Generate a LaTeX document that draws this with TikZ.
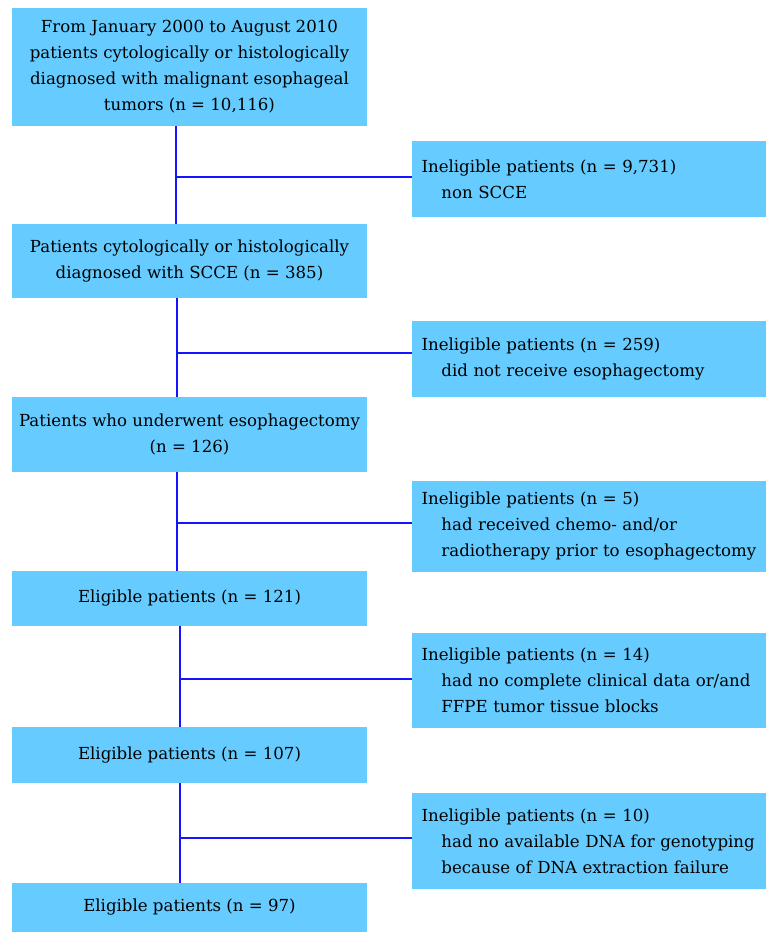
\documentclass[tikz,border=0pt]{standalone}
\usepackage{fontspec}
\setmainfont{DejaVu Serif}
\definecolor{boxblue}{RGB}{102,204,255}
\definecolor{lineblue}{RGB}{20,20,255}
\begin{document}
\begin{tikzpicture}[x=1pt,y=-1pt,
	every node/.style={fill=boxblue,inner sep=0,font=\fontsize{16.6}{26}\selectfont},
	mainbox/.style={minimum width=355pt,minimum height=#1,align=center},
	sidebox/.style={minimum width=354pt,minimum height=#1,text width=335pt,align=left},
	link/.style={lineblue,line width=2.5pt}]
\useasboundingbox (0,0) rectangle (768,933);
\node[mainbox=118pt] (b1) at (189.5,67) {From January 2000 to August 2010\\patients cytologically or histologically\\diagnosed with malignant esophageal\\tumors (n = 10,116)};
\node[mainbox=74pt] (b2) at (189.5,261) {Patients cytologically or histologically\\diagnosed with SCCE (n = 385)};
\node[mainbox=75pt] (b3) at (189.5,434.5) {Patients who underwent esophagectomy\\(n = 126)};
\node[mainbox=55pt] (b4) at (189.5,598.5) {Eligible patients (n = 121)};
\node[mainbox=56pt] (b5) at (189.5,755) {Eligible patients (n = 107)};
\node[mainbox=49pt] (b6) at (189.5,907.5) {Eligible patients (n = 97)};
\node[sidebox=76pt] (r1) at (589,179) {Ineligible patients (n = 9,731)\\\hspace*{1.2em}non SCCE};
\node[sidebox=76pt] (r2) at (589,359) {Ineligible patients (n = 259)\\\hspace*{1.2em}did not receive esophagectomy};
\node[sidebox=91pt] (r3) at (589,526.5) {Ineligible patients (n = 5)\\\hspace*{1.2em}had received chemo- and/or\\\hspace*{1.2em}radiotherapy prior to esophagectomy};
\node[sidebox=95pt] (r4) at (589,680.5) {Ineligible patients (n = 14)\\\hspace*{1.2em}had no complete clinical data or/and\\\hspace*{1.2em}FFPE tumor tissue blocks};
\node[sidebox=96pt] (r5) at (589,841) {Ineligible patients (n = 10)\\\hspace*{1.2em}had no available DNA for genotyping\\\hspace*{1.2em}because of DNA extraction failure};
\coordinate (j1) at (176,177);
\coordinate (j2) at (177,353);
\coordinate (j3) at (177,523);
\coordinate (j4) at (180,679);
\coordinate (j5) at (180,838);
\foreach \i/\k in {1/2,2/3,3/4,4/5,5/6}{
	\draw[link] (b\i.south-|j\i) -- (b\k.north-|j\i);
	\draw[link] (j\i) -- (j\i-|r\i.west);
}
\end{tikzpicture}
\end{document}
